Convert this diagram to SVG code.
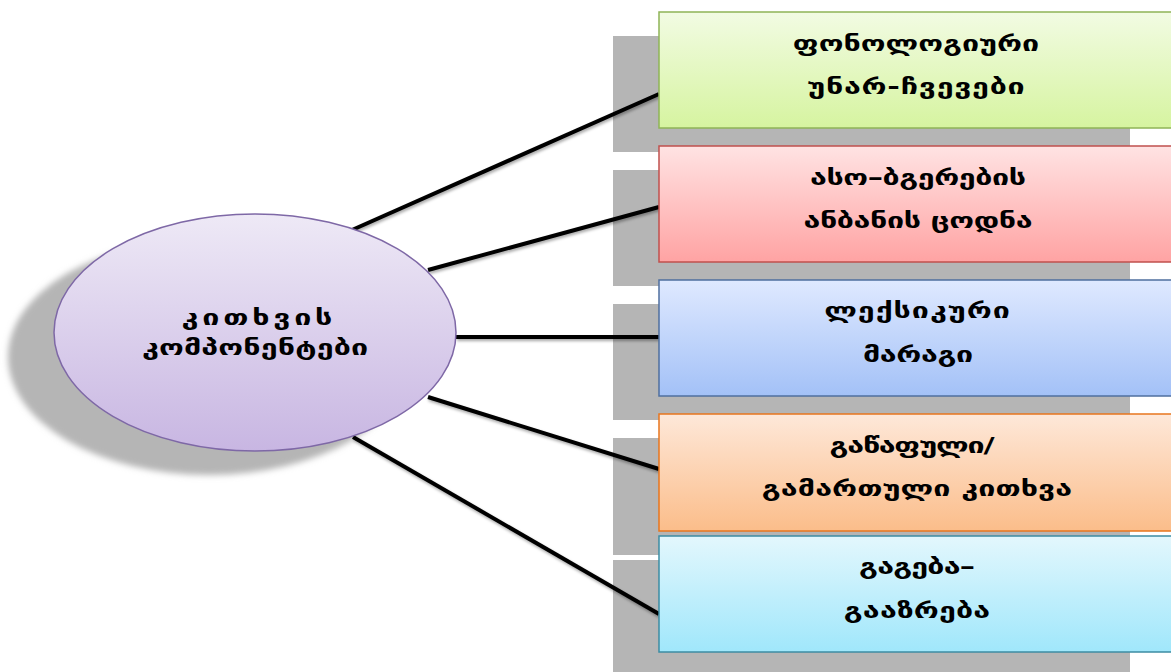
<svg xmlns="http://www.w3.org/2000/svg" width="1171" height="672" viewBox="0 0 1171 672">
<defs>
<linearGradient id="gEl" x1="0" y1="0" x2="0" y2="1"><stop offset="0" stop-color="#eee9f6"/><stop offset="1" stop-color="#c8b6e2"/></linearGradient>
<linearGradient id="g1" x1="0" y1="0" x2="0" y2="1"><stop offset="0" stop-color="#f2fbe3"/><stop offset="1" stop-color="#d6f4a0"/></linearGradient>
<linearGradient id="g2" x1="0" y1="0" x2="0" y2="1"><stop offset="0" stop-color="#ffe3e3"/><stop offset="1" stop-color="#ffa3a3"/></linearGradient>
<linearGradient id="g3" x1="0" y1="0" x2="0" y2="1"><stop offset="0" stop-color="#dfe9ff"/><stop offset="1" stop-color="#a3c1f7"/></linearGradient>
<linearGradient id="g4" x1="0" y1="0" x2="0" y2="1"><stop offset="0" stop-color="#fee8d9"/><stop offset="1" stop-color="#fbbd8a"/></linearGradient>
<linearGradient id="g5" x1="0" y1="0" x2="0" y2="1"><stop offset="0" stop-color="#e3f7fd"/><stop offset="1" stop-color="#a0e7fb"/></linearGradient>
<filter id="blur" x="-10%" y="-10%" width="120%" height="120%"><feGaussianBlur stdDeviation="3"/></filter>
<filter id="lsh" x="-10%" y="-10%" width="120%" height="120%"><feDropShadow dx="1" dy="2" stdDeviation="1.5" flood-color="#000" flood-opacity="0.35"/></filter>
</defs>
<style>
.sh{fill:#b5b5b5}
.box{stroke-width:1.5}
.t{font-family:"DejaVu Sans","Noto Sans",sans-serif;font-weight:bold;font-size:21px;fill:#000;text-anchor:middle}
.ln{stroke:#000;stroke-width:4;fill:none;stroke-linecap:butt}
</style>
<rect width="1171" height="672" fill="#fff"/>
<g id="shadows">
<ellipse class="sh" cx="209" cy="357" rx="201" ry="118" filter="url(#blur)"/>
<rect class="sh" x="613" y="36" width="517" height="116"/>
<rect class="sh" x="613" y="170" width="517" height="116"/>
<rect class="sh" x="613" y="304" width="517" height="116"/>
<rect class="sh" x="613" y="438" width="517" height="117"/>
<rect class="sh" x="613" y="560" width="517" height="116"/>
</g>
<g id="connectors" filter="url(#lsh)">
<line class="ln" x1="352" y1="230" x2="659" y2="94"/>
<line class="ln" x1="428" y1="270" x2="659" y2="207"/>
<line class="ln" x1="456" y1="337" x2="659" y2="337"/>
<line class="ln" x1="428" y1="397" x2="659" y2="469"/>
<line class="ln" x1="353" y1="437" x2="659" y2="614"/>
</g>
<g id="center">
<ellipse cx="255" cy="332.5" rx="201" ry="118.5" fill="url(#gEl)" stroke="#7e68a6" stroke-width="1.5"/>
<g transform="translate(257 0) scale(1.45 1)"><text class="t" x="0" y="325" textLength="104" lengthAdjust="spacing">კითხვის</text></g>
<g transform="translate(255 0) scale(1.45 1)"><text class="t" x="0" y="355" textLength="156" lengthAdjust="spacing">კომპონენტები</text></g>
</g>
<g id="n1">
<rect class="box" x="659" y="12" width="520" height="116" fill="url(#g1)" stroke="#8fb457"/>
<g transform="translate(916 0) scale(1.45 1)"><text class="t" x="0" y="51" textLength="170" lengthAdjust="spacing">ფონოლოგიური</text>
<text class="t" x="0" y="94" textLength="150" lengthAdjust="spacing">უნარ-ჩვევები</text></g>
</g>
<g id="n2">
<rect class="box" x="659" y="146" width="520" height="116" fill="url(#g2)" stroke="#c0504d"/>
<g transform="translate(918 0) scale(1.45 1)"><text class="t" x="0" y="185" textLength="149" lengthAdjust="spacing">ასო–ბგერების</text>
<text class="t" x="0" y="228" textLength="158" lengthAdjust="spacing">ანბანის ცოდნა</text></g>
</g>
<g id="n3">
<rect class="box" x="659" y="280" width="520" height="116" fill="url(#g3)" stroke="#4f6f9f"/>
<g transform="translate(917 0) scale(1.45 1)"><text class="t" x="0" y="318" textLength="128" lengthAdjust="spacing">ლექსიკური</text>
<text class="t" x="0.7" y="362" textLength="76" lengthAdjust="spacing">მარაგი</text></g>
</g>
<g id="n4">
<rect class="box" x="659" y="414" width="520" height="117" fill="url(#g4)" stroke="#e8761e"/>
<g transform="translate(917 0) scale(1.45 1)"><text class="t" x="-3.4" y="453" textLength="114" lengthAdjust="spacing">გაწაფული/</text>
<text class="t" x="0" y="496" textLength="214" lengthAdjust="spacing">გამართული კითხვა</text></g>
</g>
<g id="n5">
<rect class="box" x="659" y="536" width="520" height="116" fill="url(#g5)" stroke="#3c8ca3"/>
<g transform="translate(917 0) scale(1.45 1)"><text class="t" x="0" y="574" textLength="80" lengthAdjust="spacing">გაგება–</text>
<text class="t" x="0" y="618" textLength="101" lengthAdjust="spacing">გააზრება</text></g>
</g>
</svg>
